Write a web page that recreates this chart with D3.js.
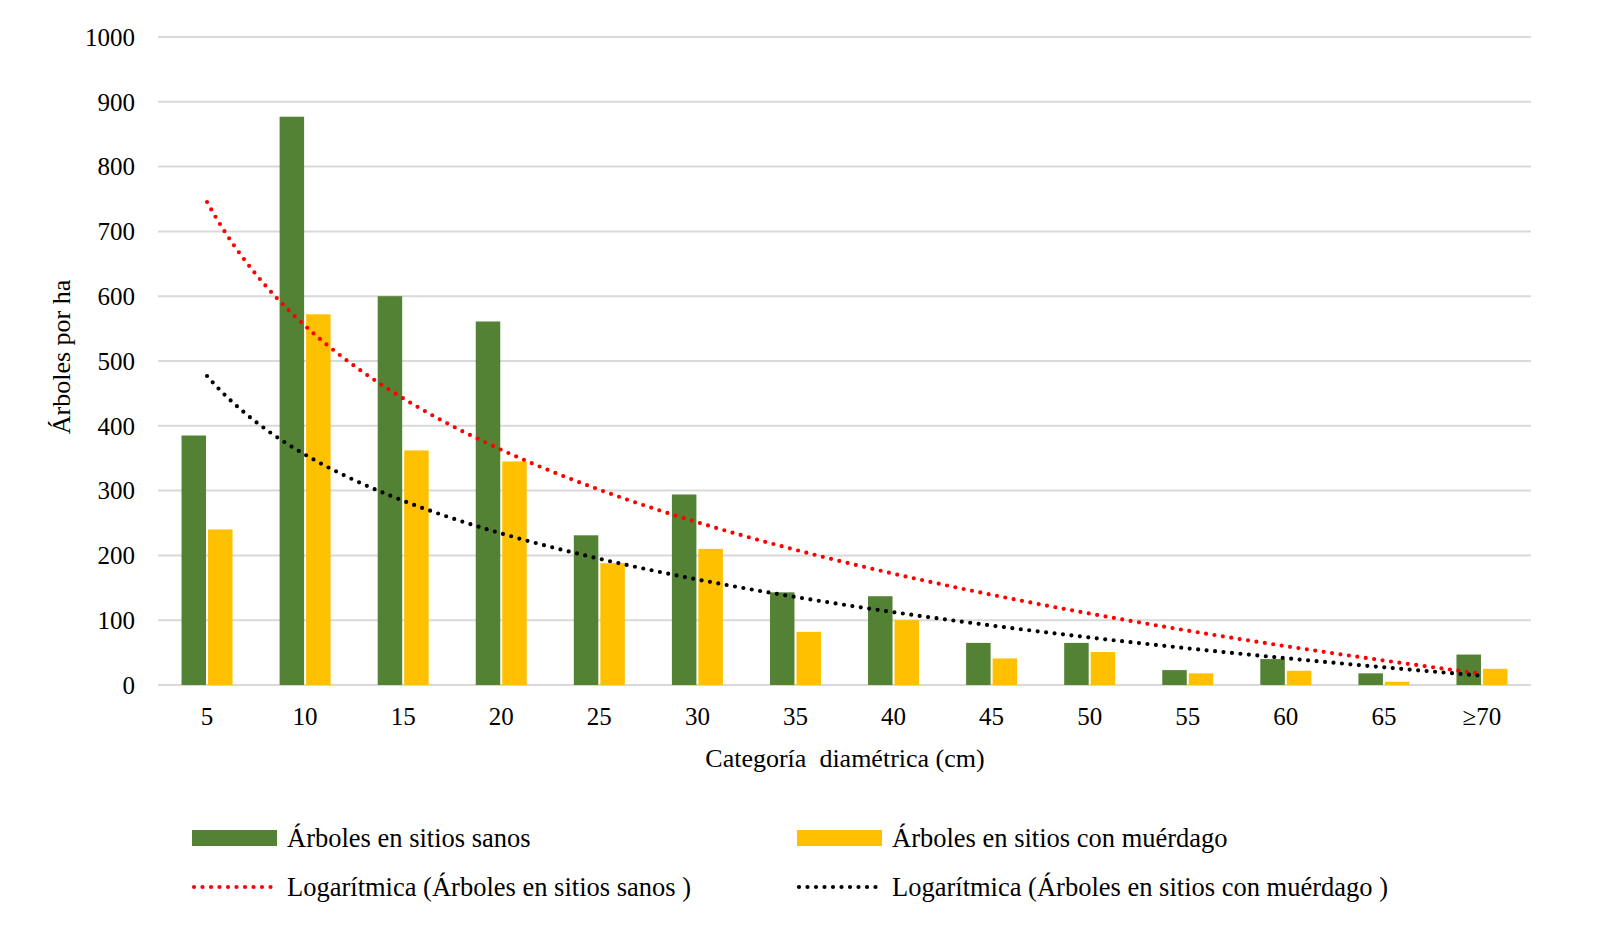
<!DOCTYPE html>
<html>
<head>
<meta charset="utf-8">
<script src="https://cdn.jsdelivr.net/npm/d3@7"></script>
<style>
  body { margin: 0; background: #fff; }
  text { font-family: "Liberation Serif", "Times New Roman", serif; fill: #000; }
</style>
</head>
<body>
<svg id="chart" width="1600" height="947"></svg>
<script>
// categories and values
var categories = ["5", "10", "15", "20", "25", "30", "35", "40", "45", "50", "55", "60", "65", "\u226570"];
var sanos = [385, 877, 600, 561, 231, 294, 143, 137, 65, 65, 23, 40, 18, 47];
var muerdago = [240, 572, 362, 345, 188, 210, 82, 100, 41, 51, 18, 22, 5, 25];
var yTicks = [0, 100, 200, 300, 400, 500, 600, 700, 800, 900, 1000];

var green = "#548235", yellow = "#FFC000";

var svg = d3.select("#chart");
var plotLeft = 158, plotRight = 1531, plotTop = 37, plotBottom = 685;

var x = d3.scaleBand().domain(categories).range([plotLeft, plotRight]);
var y = d3.scaleLinear().domain([0, 1000]).range([plotBottom, plotTop]);

// gridlines
svg.append("g").selectAll("line").data(yTicks).enter().append("line")
  .attr("x1", plotLeft).attr("x2", plotRight)
  .attr("y1", function(d) { return y(d); }).attr("y2", function(d) { return y(d); })
  .attr("stroke", "#d9d9d9").attr("stroke-width", 2);

// y tick labels
svg.append("g").selectAll("text").data(yTicks).enter().append("text")
  .attr("x", 135).attr("y", function(d) { return y(d); })
  .attr("dy", "0.35em").attr("text-anchor", "end")
  .style("font-size", "25px")
  .text(function(d) { return d; });

// x tick labels
svg.append("g").selectAll("text").data(categories).enter().append("text")
  .attr("x", function(d) { return x(d) + x.bandwidth() / 2; })
  .attr("y", 725).attr("text-anchor", "middle")
  .style("font-size", "25px")
  .text(function(d) { return d; });

var bw = 24.5, gap = 2;

svg.append("g").selectAll("rect").data(sanos).enter().append("rect")
  .attr("x", function(d, i) { return x(categories[i]) + x.bandwidth() / 2 - bw - gap / 2; })
  .attr("y", function(d) { return y(d); })
  .attr("width", bw)
  .attr("height", function(d) { return plotBottom - y(d); })
  .attr("fill", green);

svg.append("g").selectAll("rect").data(muerdago).enter().append("rect")
  .attr("x", function(d, i) { return x(categories[i]) + x.bandwidth() / 2 + gap / 2; })
  .attr("y", function(d) { return y(d); })
  .attr("width", bw)
  .attr("height", function(d) { return plotBottom - y(d); })
  .attr("fill", yellow);

// logarithmic trend (least squares on ln of the category index), as the spreadsheet does
function logFit(vals) {
  var n = vals.length, sx = 0, sy = 0, sxx = 0, sxy = 0;
  vals.forEach(function(v, i) {
    var lx = Math.log(i + 1);
    sx += lx; sy += v; sxx += lx * lx; sxy += lx * v;
  });
  var b = (n * sxy - sx * sy) / (n * sxx - sx * sx);
  var a = (sy - b * sx) / n;
  return function(t) { return a + b * Math.log(t); };
}

function drawTrend(vals, color) {
  var f = logFit(vals);
  var pts = d3.range(1, categories.length + 0.001, 0.05).map(function(t) {
    var xc = x(categories[0]) + x.bandwidth() / 2 + (t - 1) * x.step();
    return [xc, y(f(t))];
  });
  svg.append("path")
    .attr("d", d3.line()(pts))
    .attr("fill", "none").attr("stroke", color)
    .attr("stroke-width", 4.2)
    .attr("stroke-linecap", "round")
    .attr("stroke-dasharray", "0 8.5");
}
drawTrend(sanos, "#FF0000");
drawTrend(muerdago, "#000000");

// axis titles
svg.append("text")
  .attr("transform", "translate(70,357) rotate(-90)")
  .attr("text-anchor", "middle")
  .style("font-size", "26px")
  .text("\u00c1rboles por ha");

svg.append("text")
  .attr("x", 845).attr("y", 767)
  .attr("text-anchor", "middle")
  .style("white-space", "pre")
  .style("font-size", "26px")
  .text("Categor\u00eda  diam\u00e9trica (cm)");

// legend
var legend = [
  { label: "\u00c1rboles en sitios sanos", type: "bar", color: green, x: 192, y: 838 },
  { label: "\u00c1rboles en sitios con mu\u00e9rdago", type: "bar", color: yellow, x: 797, y: 838 },
  { label: "Logar\u00edtmica (\u00c1rboles en sitios sanos )", type: "line", color: "#FF0000", x: 192, y: 887 },
  { label: "Logar\u00edtmica (\u00c1rboles en sitios con mu\u00e9rdago )", type: "line", color: "#000000", x: 797, y: 887 }
];
var lg = svg.append("g").selectAll("g").data(legend).enter().append("g");
lg.filter(function(d) { return d.type === "bar"; }).append("rect")
  .attr("x", function(d) { return d.x; }).attr("y", function(d) { return d.y - 8; })
  .attr("width", 85).attr("height", 16)
  .attr("fill", function(d) { return d.color; });
lg.filter(function(d) { return d.type === "line"; }).append("line")
  .attr("x1", function(d) { return d.x + 2; }).attr("x2", function(d) { return d.x + 85; })
  .attr("y1", function(d) { return d.y; }).attr("y2", function(d) { return d.y; })
  .attr("stroke", function(d) { return d.color; })
  .attr("stroke-width", 4.2).attr("stroke-linecap", "round")
  .attr("stroke-dasharray", "0 8.5");
lg.append("text")
  .attr("x", function(d) { return d.x + 95; }).attr("y", function(d) { return d.y; })
  .attr("dy", "0.35em")
  .style("font-size", "26.5px")
  .text(function(d) { return d.label; });
</script>
</body>
</html>
